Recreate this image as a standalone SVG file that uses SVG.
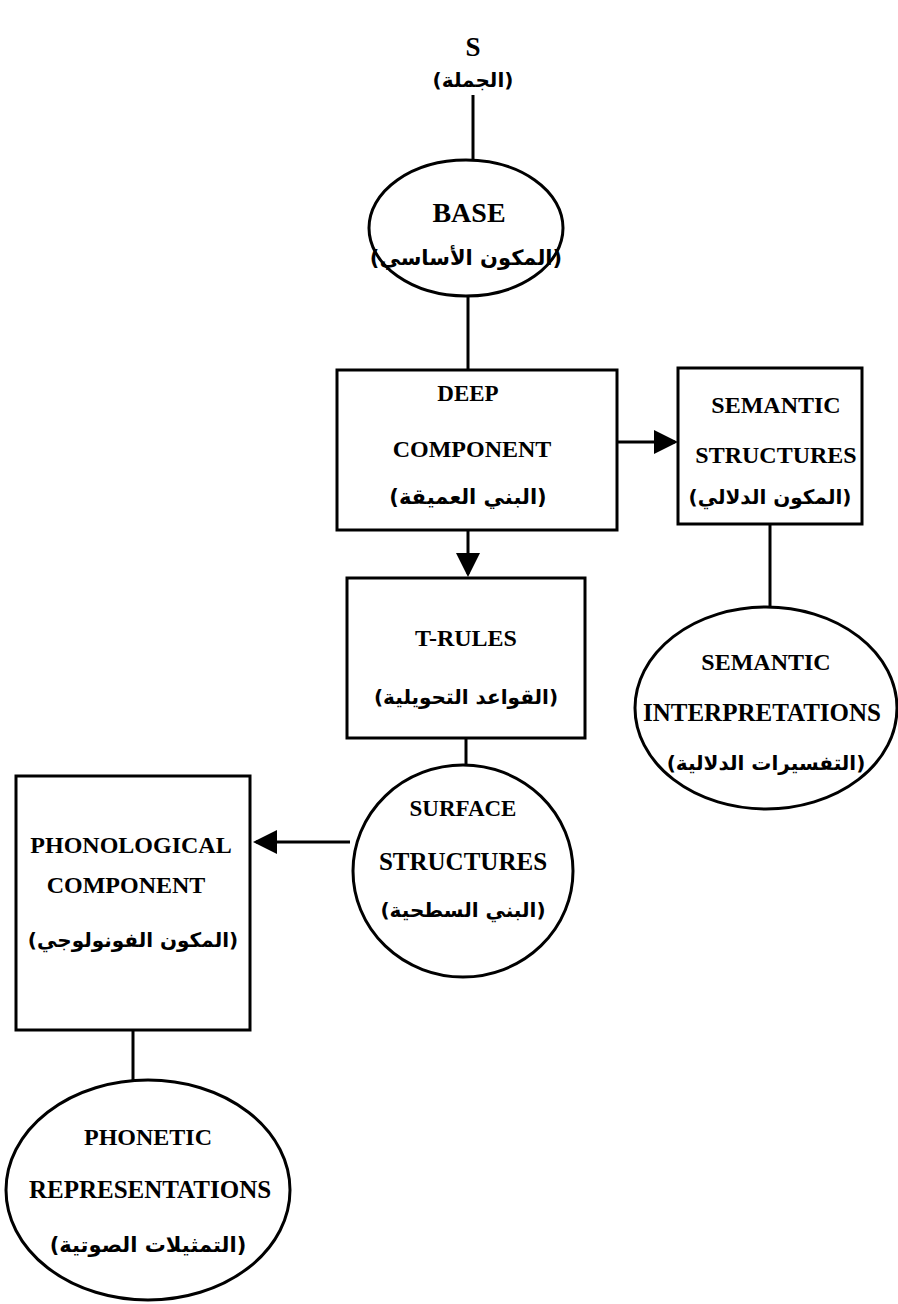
<svg xmlns="http://www.w3.org/2000/svg" width="898" height="1304" viewBox="0 0 898 1304">
<style>
.shape{fill:none;stroke:#000;stroke-width:3}
.line{stroke:#000;stroke-width:3;fill:none}
.en{font-family:"Liberation Serif","Times New Roman",serif;font-weight:bold;font-size:24px;fill:#000;text-anchor:middle}
.ar{font-family:"DejaVu Sans","Noto Sans",sans-serif;font-weight:bold;font-size:20px;fill:#000;text-anchor:middle}
</style>
<defs>
<marker id="ah" markerWidth="8" markerHeight="8" refX="7" refY="4" orient="auto" markerUnits="strokeWidth">
<path d="M0,0 L8,4 L0,8 Z" fill="#000"/>
</marker>
</defs>
<rect width="898" height="1304" fill="#fff"/>
<g id="connectors">
<line class="line" x1="473" y1="95" x2="473" y2="160"/>
<line class="line" x1="468" y1="296" x2="468" y2="370"/>
<line class="line" x1="468" y1="530" x2="468" y2="574" marker-end="url(#ah)"/>
<line class="line" x1="617" y1="442" x2="675" y2="442" marker-end="url(#ah)"/>
<line class="line" x1="770" y1="524" x2="770" y2="606"/>
<line class="line" x1="466" y1="738" x2="466" y2="765"/>
<line class="line" x1="350" y1="842" x2="256" y2="842" marker-end="url(#ah)"/>
<line class="line" x1="133" y1="1030" x2="133" y2="1080"/>
</g>
<g id="S">
<text class="en" x="473" y="56" style="font-size:27px">S</text>
<text class="ar" x="473" y="87">(الجملة)</text>
</g>
<g id="base">
<ellipse class="shape" cx="466" cy="228" rx="97" ry="68"/>
<text class="en" x="469" y="222" style="font-size:28px">BASE</text>
<text class="ar" x="466" y="265" style="font-size:21px">(المكون الأساسي)</text>
</g>
<g id="deep">
<rect class="shape" x="337" y="370" width="280" height="160"/>
<text class="en" x="468" y="401" style="font-size:23px">DEEP</text>
<text class="en" x="472" y="457">COMPONENT</text>
<text class="ar" x="468" y="504" style="font-size:21px">(البني العميقة)</text>
</g>
<g id="semstruct">
<rect class="shape" x="678" y="368" width="184" height="156"/>
<text class="en" x="776" y="413">SEMANTIC</text>
<text class="en" x="776" y="463">STRUCTURES</text>
<text class="ar" x="770" y="504">(المكون الدلالي)</text>
</g>
<g id="seminterp">
<ellipse class="shape" cx="766" cy="708" rx="131" ry="101"/>
<text class="en" x="766" y="670">SEMANTIC</text>
<text class="en" x="762" y="721" style="font-size:25px">INTERPRETATIONS</text>
<text class="ar" x="766" y="770">(التفسيرات الدلالية)</text>
</g>
<g id="trules">
<rect class="shape" x="347" y="578" width="238" height="160"/>
<text class="en" x="466" y="646">T-RULES</text>
<text class="ar" x="466" y="704">(القواعد التحويلية)</text>
</g>
<g id="surface">
<ellipse class="shape" cx="463" cy="871" rx="110" ry="106"/>
<text class="en" x="463" y="816" style="font-size:23px">SURFACE</text>
<text class="en" x="463" y="870" style="font-size:25px">STRUCTURES</text>
<text class="ar" x="463" y="917">(البني السطحية)</text>
</g>
<g id="phonological">
<rect class="shape" x="16" y="776" width="234" height="254"/>
<text class="en" x="131" y="853">PHONOLOGICAL</text>
<text class="en" x="126" y="893">COMPONENT</text>
<text class="ar" x="133" y="947">(المكون الفونولوجي)</text>
</g>
<g id="phonetic">
<ellipse class="shape" cx="148" cy="1190" rx="142" ry="110"/>
<text class="en" x="148" y="1145">PHONETIC</text>
<text class="en" x="150" y="1198" style="font-size:25px">REPRESENTATIONS</text>
<text class="ar" x="148" y="1252" style="font-size:21px">(التمثيلات الصوتية)</text>
</g>
</svg>
